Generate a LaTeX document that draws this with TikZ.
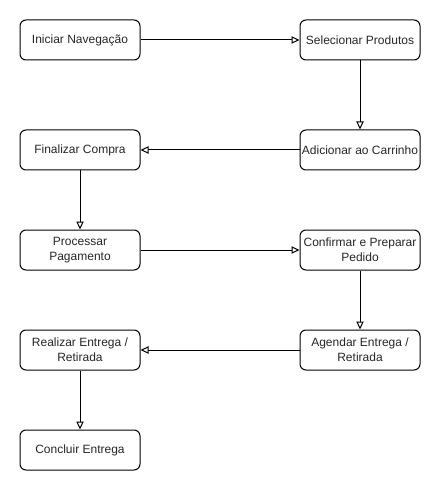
\documentclass[tikz,border=0pt]{standalone}
\usepackage{fontspec}
\setmainfont{Liberation Sans}
\usetikzlibrary{arrows.meta}
\begin{document}
\begin{tikzpicture}[x=0.75pt,y=-0.75pt,
  box/.style={draw,line width=0.75pt,rounded corners=4.5pt,minimum width=90pt,minimum height=30pt,
    inner sep=0pt,align=center,font=\fontsize{9}{11}\selectfont,text=black!85},
  conn/.style={line width=0.75pt,-{Triangle[open,length=6pt,width=5.5pt]}}]
\useasboundingbox (0,0) rectangle (441,491);
\node[box] (a) at (80,40) {Iniciar Navegação};
\node[box] (b) at (360,40) {Selecionar Produtos};
\node[box] (c) at (360,150) {Adicionar ao Carrinho};
\node[box] (d) at (80,150) {Finalizar Compra};
\node[box] (e) at (80,250) {Processar\\Pagamento};
\node[box] (f) at (360,250) {Confirmar e Preparar\\Pedido};
\node[box] (g) at (360,350) {Agendar Entrega /\\Retirada};
\node[box] (h) at (80,350) {Realizar Entrega /\\Retirada};
\node[box] (i) at (80,450) {Concluir Entrega};
\draw[conn] (a) -- (b);
\draw[conn] (b) -- (c);
\draw[conn] (c) -- (d);
\draw[conn] (d) -- (e);
\draw[conn] (e) -- (f);
\draw[conn] (f) -- (g);
\draw[conn] (g) -- (h);
\draw[conn] (h) -- (i);
\end{tikzpicture}
\end{document}
